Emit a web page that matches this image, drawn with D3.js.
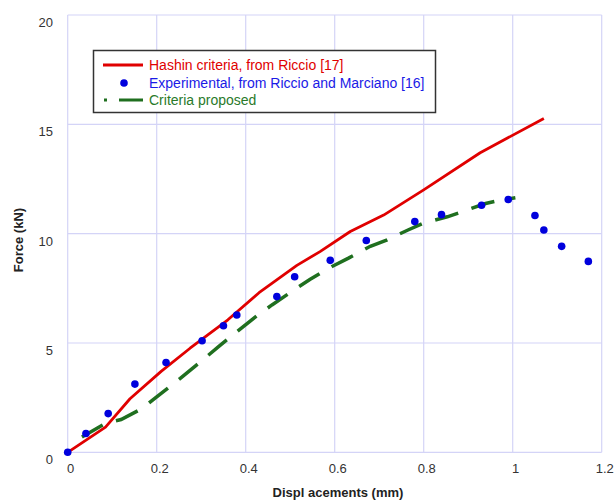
<!DOCTYPE html>
<html>
<head>
<meta charset="utf-8">
<script src="https://cdn.jsdelivr.net/npm/d3@7"></script>
<style>
  body { margin: 0; background: #fff; }
  svg { display: block; font-family: "Liberation Sans", Arial, sans-serif; }
</style>
</head>
<body>
<div id="grafico"></div>
<script>
// datos
const hashinX = [0, 0.085, 0.14, 0.21, 0.275, 0.36, 0.43, 0.515, 0.567, 0.635, 0.71, 0.8, 0.927, 1.07];
const hashinY = [0, 1.15, 2.45, 3.7, 4.76, 6.06, 7.3, 8.55, 9.18, 10.1, 10.85, 12.0, 13.7, 15.27];

const expX = [0, 0.041, 0.091, 0.151, 0.221, 0.302, 0.35, 0.38, 0.47, 0.51, 0.59, 0.671, 0.78, 0.84, 0.93, 0.99, 1.05, 1.07, 1.11, 1.17];
const expY = [0, 0.86, 1.77, 3.12, 4.11, 5.1, 5.79, 6.28, 7.12, 8.03, 8.78, 9.69, 10.55, 10.87, 11.3, 11.56, 10.83, 10.17, 9.42, 8.73];

const propX = [0.032, 0.085, 0.12, 0.167, 0.2, 0.253, 0.29, 0.339, 0.373, 0.425, 0.459, 0.511, 0.545, 0.594, 0.631, 0.68, 0.718, 0.766, 0.8, 0.853, 0.886, 0.939, 0.972, 1.006];
const propY = [0.7, 1.33, 1.5, 2.0, 2.54, 3.38, 4.0, 4.83, 5.4, 6.24, 6.74, 7.46, 7.91, 8.5, 8.88, 9.42, 9.72, 10.18, 10.49, 10.77, 11.0, 11.38, 11.53, 11.64];

const ticksX = [0, 0.2, 0.4, 0.6, 0.8, 1, 1.2];
const ticksY = [0, 5, 10, 15, 20];
const leyenda = ["Hashin criteria, from Riccio [17]", "Experimental, from Riccio and Marciano [16]", "Criteria proposed"];

const ancho = 614, alto = 502;
const izq = 67.7, der = 601.7, arriba = 15, abajo = 452.3;
const colorGrilla = "#d4d4f7";
const rojo = "#e00000", azul = "#0000dd", verde = "#1f6f1f";

const $svg = d3.select("#grafico").append("svg")
    .attr("width", ancho)
    .attr("height", alto);

const x = d3.scaleLinear().domain([0, 1.2]).range([izq, der]);
const y = d3.scaleLinear().domain([0, 20]).range([abajo, arriba]);

// grilla
$svg.append("g")
    .selectAll("line")
    .data(ticksX)
    .join("line")
    .attr("x1", d => x(d)).attr("x2", d => x(d))
    .attr("y1", arriba).attr("y2", abajo)
    .attr("stroke", colorGrilla).attr("stroke-width", 1.2);

$svg.append("g")
    .selectAll("line")
    .data(ticksY)
    .join("line")
    .attr("x1", izq).attr("x2", der)
    .attr("y1", d => y(d)).attr("y2", d => y(d))
    .attr("stroke", colorGrilla).attr("stroke-width", 1.2);

// etiquetas de ejes
$svg.append("g")
    .selectAll("text")
    .data(ticksY)
    .join("text")
    .attr("x", 53)
    .attr("y", d => y(d) + 12)
    .attr("text-anchor", "end")
    .attr("font-size", 13)
    .attr("fill", "#333")
    .text(d => d);

$svg.append("g")
    .selectAll("text")
    .data(ticksX)
    .join("text")
    .attr("x", d => x(d) + 3)
    .attr("y", 473)
    .attr("text-anchor", "middle")
    .attr("font-size", 13)
    .attr("fill", "#333")
    .text(d => d);

$svg.append("text")
    .attr("transform", "translate(23,240) rotate(-90)")
    .attr("text-anchor", "middle")
    .attr("font-size", 13)
    .attr("font-weight", "bold")
    .attr("fill", "#222")
    .text("Force (kN)");

$svg.append("text")
    .attr("x", 338)
    .attr("y", 497)
    .attr("text-anchor", "middle")
    .attr("font-size", 13)
    .attr("font-weight", "bold")
    .attr("fill", "#222")
    .text("Displ acements (mm)");

// curvas
const linea = d3.line().x(d => x(d[0])).y(d => y(d[1]));

$svg.append("path")
    .attr("d", linea(d3.zip(propX, propY)))
    .attr("fill", "none")
    .attr("stroke", verde)
    .attr("stroke-width", 3.5)
    .attr("stroke-dasharray", "24 14");

$svg.append("path")
    .attr("d", linea(d3.zip(hashinX, hashinY)))
    .attr("fill", "none")
    .attr("stroke", rojo)
    .attr("stroke-width", 2.8)
    .attr("stroke-linejoin", "round");

$svg.append("g")
    .selectAll("circle")
    .data(d3.zip(expX, expY))
    .join("circle")
    .attr("cx", d => x(d[0]))
    .attr("cy", d => y(d[1]))
    .attr("r", 3.8)
    .attr("fill", azul);

// leyenda
const $ley = $svg.append("g");
$ley.append("rect")
    .attr("x", 93.5).attr("y", 50.5)
    .attr("width", 342).attr("height", 62)
    .attr("fill", "#fff")
    .attr("stroke", "#333").attr("stroke-width", 1.5);

$ley.append("line")
    .attr("x1", 103).attr("x2", 143).attr("y1", 65).attr("y2", 65)
    .attr("stroke", rojo).attr("stroke-width", 2.8);
$ley.append("circle")
    .attr("cx", 124).attr("cy", 83).attr("r", 3.8)
    .attr("fill", azul);
$ley.append("line")
    .attr("x1", 104).attr("x2", 107).attr("y1", 100).attr("y2", 100)
    .attr("stroke", verde).attr("stroke-width", 3);
$ley.append("line")
    .attr("x1", 119).attr("x2", 143).attr("y1", 100).attr("y2", 100)
    .attr("stroke", verde).attr("stroke-width", 3);

const coloresLeyenda = [rojo, "#1a1ae6", "#2a7a2a"];
$ley.selectAll("text")
    .data(leyenda)
    .join("text")
    .attr("x", 149)
    .attr("y", (d, i) => 70 + i * 17.5)
    .attr("font-size", 14)
    .attr("fill", (d, i) => coloresLeyenda[i])
    .text(d => d);
</script>
</body>
</html>
